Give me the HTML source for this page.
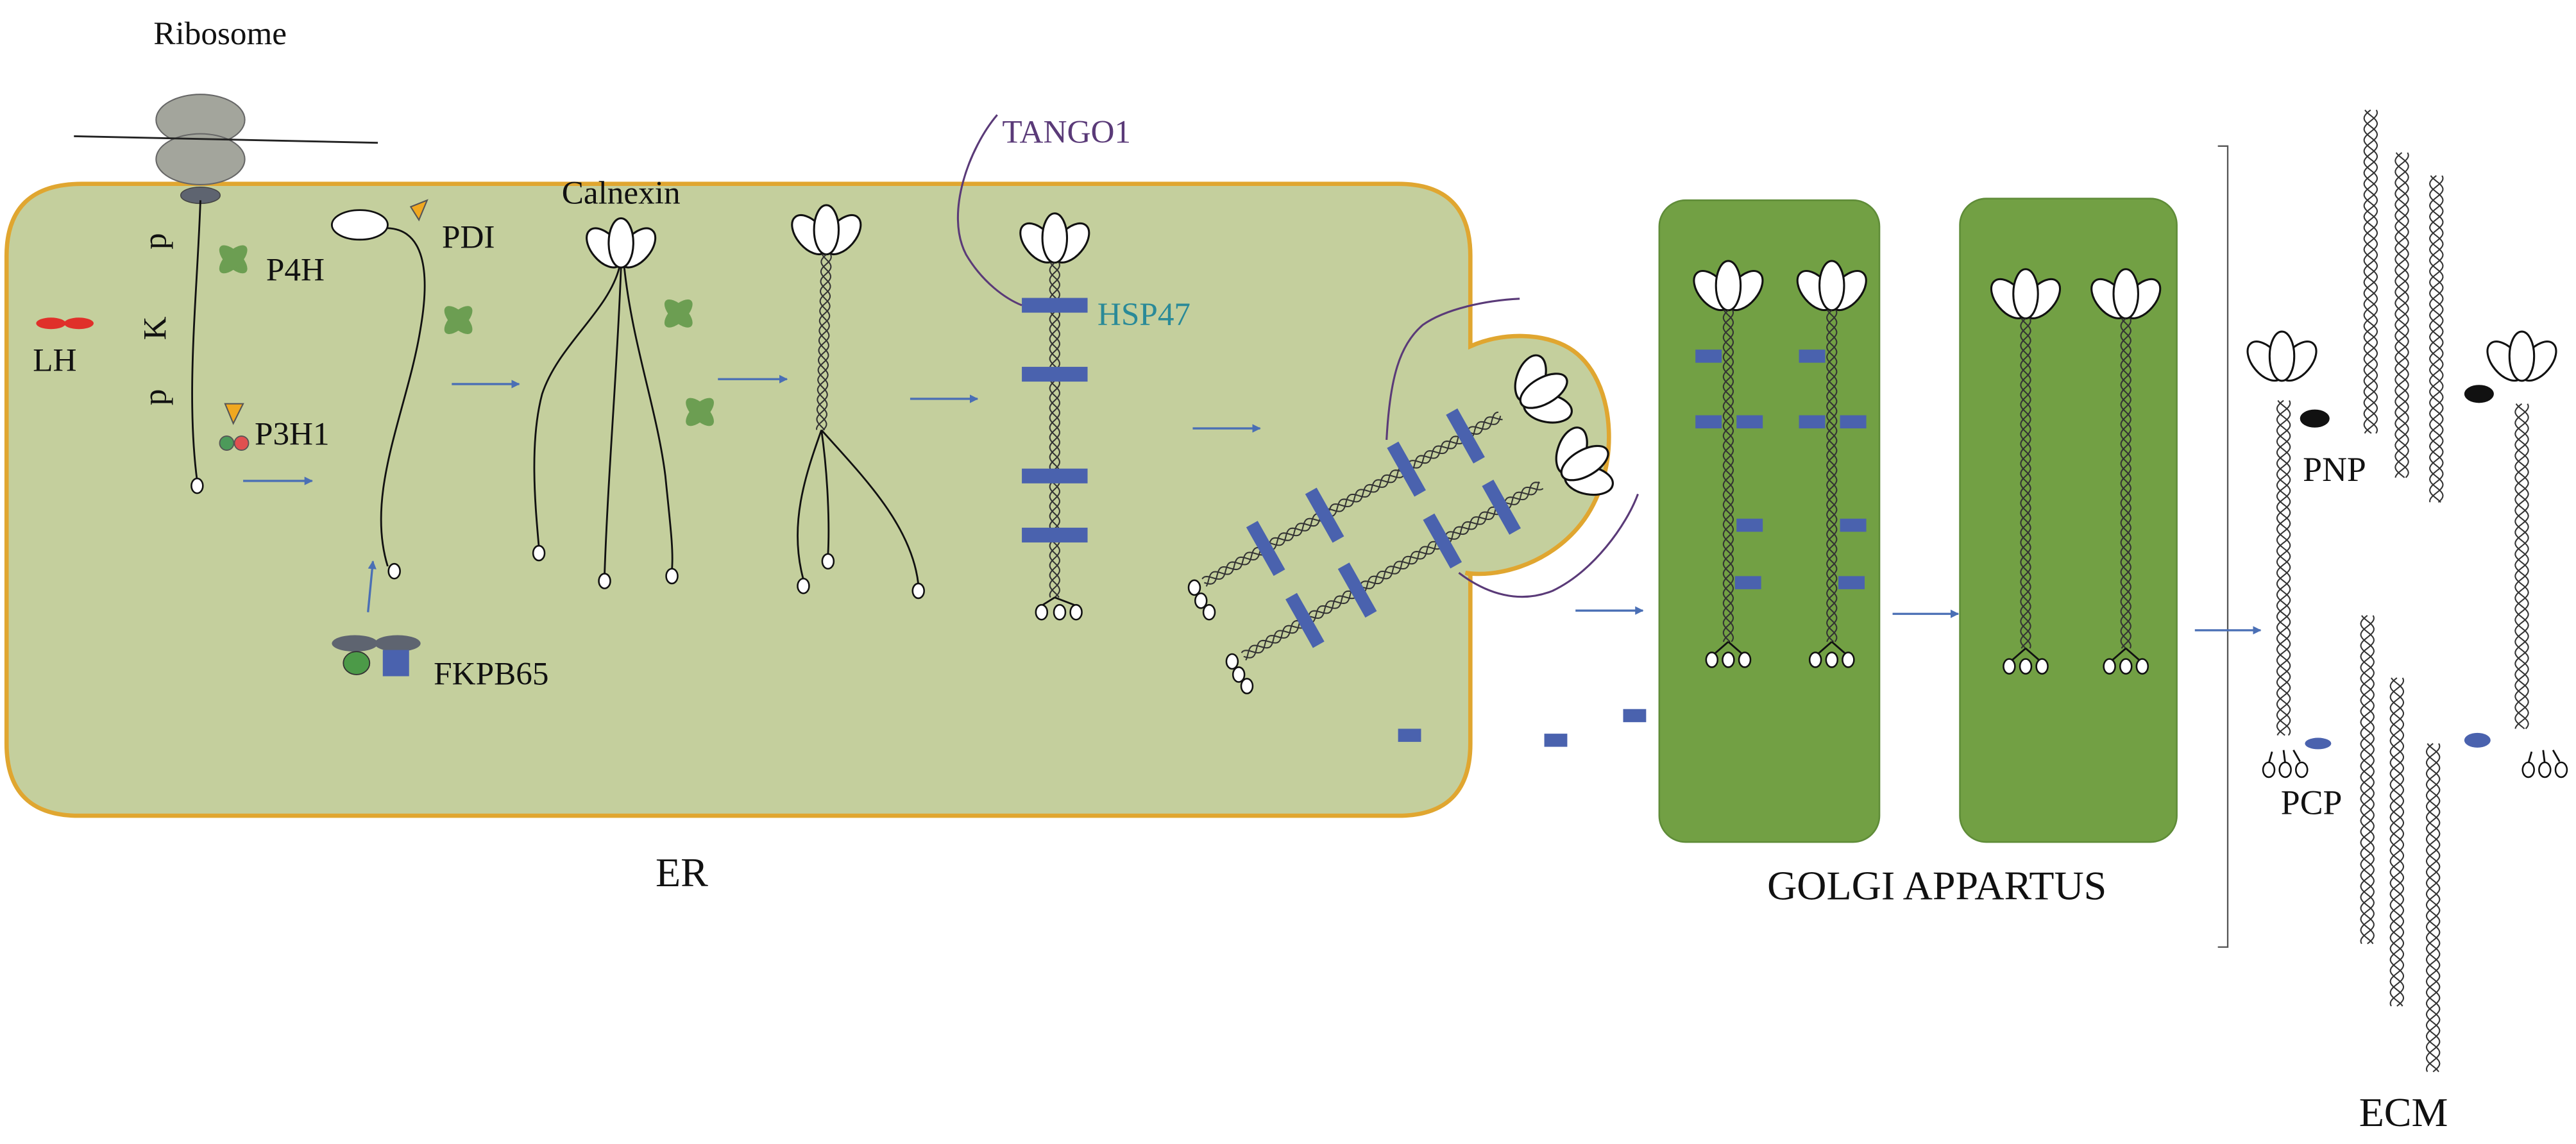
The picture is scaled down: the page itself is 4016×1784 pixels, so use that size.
<!DOCTYPE html>
<html><head><meta charset="utf-8"><style>
html,body{margin:0;padding:0;background:#fff;}
svg{display:block;}
text{font-family:"Liberation Serif",serif;}
</style></head><body>
<svg id="s" width="4016" height="1784" viewBox="0 0 1568 697" preserveAspectRatio="none" xmlns="http://www.w3.org/2000/svg">
<defs>
<marker id="ar" viewBox="0 0 10 10" refX="9" refY="5" markerWidth="4" markerHeight="4" orient="auto"><path d="M0,0 L10,5 L0,10 z" fill="#4a6fb5"/></marker>
</defs>
<rect width="1568" height="697" fill="#fff"/>
<path d="M50,112 H851 Q895,112 895,156 V211 C915,202 940,203 955,212 C985,230 988,290 960,322 C940,345 910,352 892,349 L895,350 V453 Q895,497 851,497 H48 Q4,497 4,453 V156 Q4,112 50,112 Z" fill="#c4cf9d" stroke="#e0a630" stroke-width="2.6"/>
<rect x="1010" y="122" width="134" height="391" rx="16" fill="#72a044" stroke="#5f8c38" stroke-width="1"/>
<rect x="1193" y="121" width="132" height="392" rx="16" fill="#72a044" stroke="#5f8c38" stroke-width="1"/>
<path d="M1350,89 H1356 V577 H1350" fill="none" stroke="#555" stroke-width="0.9"/>
<ellipse cx="122" cy="73" rx="27" ry="15.5" fill="#a3a59c" stroke="#666" stroke-width="0.8"/>
<ellipse cx="122" cy="97" rx="27" ry="15.5" fill="#a3a59c" stroke="#666" stroke-width="0.8"/>
<line x1="45" y1="83" x2="230" y2="87" stroke="#222" stroke-width="1.1"/>
<ellipse cx="122" cy="119" rx="12" ry="5" fill="#5e6470" stroke="#444" stroke-width="0.6"/>
<path d="M122,122 C120,180 113,240 120,293" fill="none" stroke="#111" stroke-width="1.1"/>
<ellipse cx="120" cy="296" rx="3.5" ry="4.5" fill="#fff" stroke="#111" stroke-width="1"/>
<ellipse cx="31" cy="197" rx="9" ry="3.5" fill="#e0302a"/>
<ellipse cx="48" cy="197" rx="9" ry="3.5" fill="#e0302a"/>
<path d="M137,246 L148,246 L142,258 Z" fill="#f0a820" stroke="#555" stroke-width="0.8"/>
<circle cx="138" cy="270" r="4.3" fill="#4c9a5a" stroke="#555" stroke-width="0.7"/>
<circle cx="147" cy="270" r="4.3" fill="#e05050" stroke="#555" stroke-width="0.7"/>
<ellipse cx="219" cy="137" rx="17" ry="9" fill="#fff" stroke="#111" stroke-width="1.1"/>
<path d="M250,126 L260,122 L255,134 Z" fill="#f0a820" stroke="#555" stroke-width="0.8"/>
<path d="M236,139 C258,140 262,165 256,200 C248,250 222,300 236,345" fill="none" stroke="#111" stroke-width="1.1"/>
<ellipse cx="240" cy="348" rx="3.5" ry="4.5" fill="#fff" stroke="#111" stroke-width="1"/>
<ellipse cx="216" cy="392" rx="14" ry="5" fill="#5e6470"/>
<ellipse cx="242" cy="392" rx="14" ry="5" fill="#5e6470"/>
<ellipse cx="217" cy="404" rx="8" ry="7" fill="#4c9a48" stroke="#333" stroke-width="0.7"/>
<rect x="233" y="396" width="16" height="16" fill="#4a62ae"/>
<g id="dyn"></g>
<g stroke="#4a6fb5" stroke-width="1.3" marker-end="url(#ar)">
<line x1="148" y1="293" x2="190" y2="293"/>
<line x1="224" y1="373" x2="227" y2="342"/>
<line x1="275" y1="234" x2="316" y2="234"/>
<line x1="437" y1="231" x2="479" y2="231"/>
<line x1="554" y1="243" x2="595" y2="243"/>
<line x1="726" y1="261" x2="767" y2="261"/>
<line x1="959" y1="372" x2="1000" y2="372"/>
<line x1="1152" y1="374" x2="1192" y2="374"/>
<line x1="1336" y1="384" x2="1376" y2="384"/>
</g>
<path d="M607,70 C590,90 575,130 588,155 C598,172 612,182 622,186" fill="none" stroke="#5a3a78" stroke-width="1.2"/>
<path d="M844,268 C846,230 852,210 866,198 C880,188 905,183 925,182" fill="none" stroke="#5a3a78" stroke-width="1.2"/>
<path d="M888,349 C905,362 925,368 945,360 C970,348 990,320 997,301" fill="none" stroke="#5a3a78" stroke-width="1.2"/>
<g fill="#4a62ae">
<rect x="851" y="444" width="14" height="8"/>
<rect x="940" y="447" width="14" height="8"/>
<rect x="988" y="432" width="14" height="8"/>
</g>
<g fill="#111" font-size="20">
<text x="134" y="27" text-anchor="middle">Ribosome</text>
<text x="162" y="171">P4H</text>
<text x="20" y="226">LH</text>
<text x="155" y="271">P3H1</text>
<text x="269" y="151">PDI</text>
<text x="378" y="124" text-anchor="middle">Calnexin</text>
<text x="264" y="417">FKPB65</text>
<text transform="translate(101,147) rotate(-90)" text-anchor="middle">p</text>
<text transform="translate(101,200) rotate(-90)" text-anchor="middle">K</text>
<text transform="translate(101,242) rotate(-90)" text-anchor="middle">p</text>
<text x="610" y="87" fill="#5a3a78">TANGO1</text>
<text x="668" y="198" fill="#2a8a98">HSP47</text>
<text x="1421" y="293" text-anchor="middle" font-size="21">PNP</text>
<text x="1407" y="496" text-anchor="middle" font-size="21">PCP</text>
</g>
<g fill="#111" font-size="25">
<text x="415" y="540" text-anchor="middle">ER</text>
<text x="1179" y="548" text-anchor="middle">GOLGI APPARTUS</text>
<text x="1463" y="686" text-anchor="middle">ECM</text>
</g>
</svg>
<script>
var NS="http://www.w3.org/2000/svg",G=document.getElementById("dyn");
function el(t,a,p){var e=document.createElementNS(NS,t);for(var k in a)e.setAttribute(k,a[k]);(p||G).appendChild(e);return e;}
function rod(x1,y1,x2,y2,amp,per){amp=amp||3;per=per||18;
 var dx=x2-x1,dy=y2-y1,L=Math.hypot(dx,dy),ux=dx/L,uy=dy/L,nx=-uy,ny=ux;
 for(var s=0;s<3;s++){var d="";for(var t=0;t<=L;t+=1){var o=amp*Math.sin(2*Math.PI*t/per+s*2*Math.PI/3);
  d+=(t?"L":"M")+(x1+ux*t+nx*o).toFixed(2)+","+(y1+uy*t+ny*o).toFixed(2);}
  el("path",{d:d,fill:"none",stroke:"#333","stroke-width":0.8});}
}
function trimer(cx,cy,ang,sc){sc=sc||1;var g=el("g",{transform:"translate("+cx+","+cy+") rotate("+ang+") scale("+sc+")"});
 el("ellipse",{cx:-10,cy:-12,rx:8,ry:14,transform:"rotate(-40 -10 -12)",fill:"#fff",stroke:"#111","stroke-width":1.2},g);
 el("ellipse",{cx:10,cy:-12,rx:8,ry:14,transform:"rotate(40 10 -12)",fill:"#fff",stroke:"#111","stroke-width":1.2},g);
 el("ellipse",{cx:0,cy:-15,rx:7.5,ry:15,fill:"#fff",stroke:"#111","stroke-width":1.2},g);
}
function circ(x,y){el("ellipse",{cx:x,cy:y,rx:3.5,ry:4.5,fill:"#fff",stroke:"#111","stroke-width":1});}
function cross(x,y){var g=el("g",{transform:"translate("+x+","+y+")"});
 el("ellipse",{cx:0,cy:0,rx:11,ry:5,transform:"rotate(45)",fill:"#6c9e52"},g);
 el("ellipse",{cx:0,cy:0,rx:11,ry:5,transform:"rotate(-45)",fill:"#6c9e52"},g);}
function brect(x,y,w,h,a){el("rect",{x:-w/2,y:-h/2,width:w,height:h,fill:"#4a62ae",transform:"translate("+x+","+y+") rotate("+(a||0)+")"});}
function path(d){el("path",{d:d,fill:"none",stroke:"#111","stroke-width":1.1});}
cross(142,158);cross(279,195);cross(413,191);cross(426,251);
trimer(378,163,0);
path("M377,163 C370,190 340,210 330,240 C322,270 326,310 328,333");
path("M378,163 C376,220 370,290 368,350");
path("M380,163 C385,210 400,250 405,290 C408,320 410,335 409,347");
circ(328,337);circ(368,354);circ(409,351);
trimer(503,155,0);
rod(503,155,500,262,3,18);
path("M500,262 C490,290 480,320 489,353");
path("M500,262 C504,290 505,320 504,338");
path("M500,262 C525,290 555,320 559,356");
circ(489,357);circ(504,342);circ(559,360);
trimer(642,160,0);
rod(642,160,642,364,3,18);
path("M642,364 L634,369");path("M642,364 L655,369");
circ(634,373);circ(645,373);circ(655,373);
[186,228,290,326].forEach(function(y){brect(642,y,40,9);});
rod(733,355,914,253,3,18);rod(757,400,938,295,3,18);
trimer(926,246,60,1.05);trimer(951,290,60,1.05);
circ(727,358);circ(731,366);circ(736,373);
circ(750,403);circ(754,411);circ(759,418);
[[770.4,334.1],[806.3,313.9],[856.1,285.8],[892,265.6],[794.3,378],[826.2,359.5],[878,329.6],[913.9,309]].forEach(function(p){brect(p[0],p[1],34,8,60.6);});
[[1052,175,391,1],[1115,175,391,1],[1233,180,395,0],[1294,180,395,0]].forEach(function(r){
 trimer(r[0],r[1]+14,0);rod(r[0],r[1]+14,r[0],r[2],3,18);
 path("M"+r[0]+","+r[2]+" L"+(r[0]-8)+","+(r[2]+7));path("M"+r[0]+","+r[2]+" L"+(r[0]+8)+","+(r[2]+7));
 circ(r[0]-10,r[2]+11);circ(r[0],r[2]+11);circ(r[0]+10,r[2]+11);
 if(r[3]){brect(r[0]-12,217,16,8);brect(r[0]-12,257,16,8);brect(r[0]+13,257,16,8);brect(r[0]+13,320,16,8);brect(r[0]+12,355,16,8);}
});
trimer(1389,232,0);trimer(1535,232,0);
rod(1390,244,1390,448,4,20);rod(1535,246,1535,444,4,20);
el("ellipse",{cx:1409,cy:255,rx:9,ry:5.5,fill:"#111"});
el("ellipse",{cx:1509,cy:240,rx:9,ry:5.5,fill:"#111"});
el("ellipse",{cx:1411,cy:453,rx:8,ry:3.5,fill:"#4a62ae"});
el("ellipse",{cx:1508,cy:451,rx:8,ry:4.5,fill:"#4a62ae"});
[1381,1539].forEach(function(x){
 path("M"+(x+2)+",458 L"+x+",465");path("M"+(x+9)+",457 L"+(x+10)+",465");path("M"+(x+15)+",457 L"+(x+19)+",464");
 circ(x,469);circ(x+10,469);circ(x+20,469);});
rod(1443,67,1443,264,4,20);rod(1462,93,1462,291,4,20);rod(1483,107,1483,306,4,20);
rod(1441,375,1441,575,4,20);rod(1459,413,1459,613,4,20);rod(1481,453,1481,653,4,20);
</script>
</body></html>
